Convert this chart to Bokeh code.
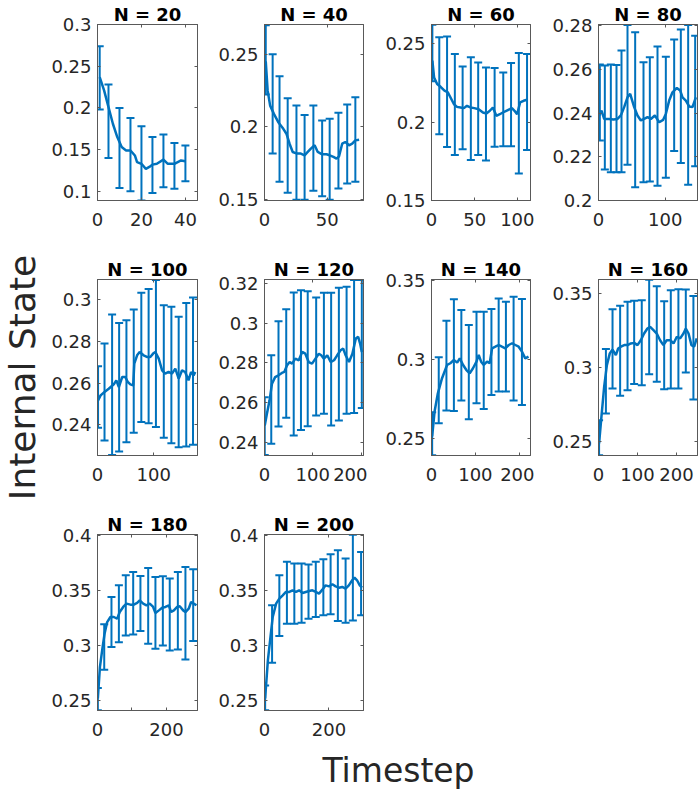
from math import pi
from bokeh.plotting import figure
from bokeh.models import Range1d, FixedTicker, LinearAxis, Label
from bokeh.layouts import row, column
from bokeh.embed import file_html
from bokeh.resources import INLINE

BLUE = "#0072BD"
AXC = "#595959"
TXT = "#262626"
FONT = "DejaVu Sans"

# ---------------- data ----------------
titles = ["N = 20", "N = 40", "N = 60", "N = 80", "N = 100",
          "N = 120", "N = 140", "N = 160", "N = 180", "N = 200"]

n20_line_x = [1, 3, 5, 7, 9, 11, 13, 15, 17, 18, 20, 22, 24, 25, 27, 30, 32, 35, 38, 40]
n20_line_y = [0.237, 0.221, 0.201, 0.181, 0.165, 0.153, 0.149, 0.149, 0.143, 0.135, 0.133,
              0.127, 0.130, 0.132, 0.133, 0.138, 0.133, 0.133, 0.137, 0.136]
n20_bar_x = [1, 5, 10, 15, 20, 25, 30, 35, 40]
n20_bar_hi = [0.274, 0.228, 0.200, 0.188, 0.178, 0.165, 0.168, 0.158, 0.155]
n20_bar_lo = [0.198, 0.140, 0.104, 0.100, 0.089, 0.098, 0.105, 0.103, 0.112]

n40_line_x = [1, 2.5, 4.5, 7.5, 11, 15, 17.5, 20, 22.5, 26, 29, 32, 34.5, 37, 40, 42.5, 46,
              49.5, 52, 55, 57.5, 59.5, 62, 64.5, 67.5, 70, 72.5, 75.5]
n40_line_y = [0.245, 0.225, 0.2145, 0.2088, 0.2031, 0.1985, 0.1951, 0.1882, 0.1825, 0.1814,
              0.1814, 0.1802, 0.1825, 0.1848, 0.1871, 0.1825, 0.1809, 0.1809, 0.1802, 0.1791,
              0.1779, 0.1795, 0.1882, 0.1894, 0.1871, 0.1882, 0.1905, 0.191]
n40_bar_x = [1, 6.5, 12, 18.5, 25.5, 32, 39, 46, 52, 59, 66, 72.5]
n40_bar_hi = [0.270, 0.250, 0.2347, 0.2196, 0.2145, 0.2081, 0.2145, 0.2042, 0.2054, 0.2095,
              0.2152, 0.2203]
n40_bar_lo = [0.2221, 0.1814, 0.1619, 0.1544, 0.1495, 0.1495, 0.1557, 0.152, 0.1495, 0.1573,
              0.1608, 0.1619]

n60_line_x = [1, 3, 6.5, 10.5, 15, 19, 22, 26, 29.5, 33.5, 37.5, 41, 45, 49.5, 54.5, 59.5,
              63.5, 67.5, 71, 75, 79, 82.5, 86.5, 90.5, 93, 96, 99, 102.5, 106.5, 110.5]
n60_line_y = [0.2393, 0.2286, 0.2244, 0.2226, 0.2201, 0.219, 0.2158, 0.2115, 0.2098, 0.2094,
              0.209, 0.2105, 0.2094, 0.209, 0.2083, 0.2062, 0.2056, 0.2073, 0.2094, 0.2041,
              0.2051, 0.2062, 0.2073, 0.2083, 0.209, 0.2073, 0.2051, 0.2126, 0.2137, 0.2143]
n60_bar_x = [1, 9, 18, 27, 36, 45.5, 54, 63, 73, 83, 92, 101, 110.5]
n60_bar_hi = [0.2622, 0.2543, 0.2547, 0.2436, 0.2355, 0.2415, 0.2382, 0.235, 0.2346, 0.2318,
              0.2378, 0.2442, 0.2436]
n60_bar_lo = [0.2261, 0.1923, 0.1842, 0.179, 0.1827, 0.1758, 0.179, 0.1756, 0.1844, 0.1846,
              0.1846, 0.1673, 0.1823]

n80_line_x = [1, 4.5, 8.5, 16, 22.5, 28.5, 33.5, 38.5, 43.5, 47.5, 53.5, 58.5, 63.5, 68.5,
              73.5, 78.5, 84.5, 91, 97, 101, 106, 111, 117.5, 122.5, 126, 131, 136, 141, 146]
n80_line_y = [0.2389, 0.2411, 0.2373, 0.2373, 0.237, 0.2373, 0.2389, 0.2427, 0.2472, 0.2488,
              0.2427, 0.2389, 0.2366, 0.2373, 0.2381, 0.2373, 0.2389, 0.2358, 0.2369, 0.2396,
              0.2457, 0.2495, 0.2515, 0.2503, 0.2472, 0.2457, 0.243, 0.2427, 0.2472]
n80_bar_x = [2, 9.5, 18.5, 27, 34.5, 43.5, 55, 67.5, 77, 88.5, 101, 113.5, 123.5, 134.5, 145]
n80_bar_hi = [0.2622, 0.2617, 0.2622, 0.262, 0.2686, 0.2803, 0.277, 0.2632, 0.2655, 0.2704,
              0.2658, 0.2736, 0.2782, 0.2803, 0.2754]
n80_bar_lo = [0.2274, 0.2142, 0.2129, 0.2129, 0.2129, 0.2163, 0.2061, 0.2084, 0.2087, 0.2068,
              0.2104, 0.2226, 0.2172, 0.2072, 0.2157]

n100_line_x = [1, 5.5, 12.5, 20, 29, 33.5, 38, 44, 49.5, 54, 58.5, 63.5, 65.5, 70.5, 75, 82,
               88, 94, 99, 103, 109, 115, 120.5, 126.5, 132.5, 138.5, 144.5, 150.5, 156, 162,
               166.5, 171, 174]
n100_line_y = [0.2517, 0.2541, 0.2557, 0.2573, 0.2594, 0.2613, 0.2581, 0.2629, 0.2629, 0.2605,
               0.2594, 0.2589, 0.2693, 0.2733, 0.2749, 0.2733, 0.2725, 0.2725, 0.2741, 0.2749,
               0.2717, 0.2661, 0.2645, 0.2653, 0.2645, 0.2669, 0.2621, 0.2661, 0.2653, 0.2613,
               0.2653, 0.2637, 0.2653]
n100_bar_x = [1, 12.5, 26, 38.5, 51.5, 64.5, 78, 91, 104, 118, 131.5, 144.5, 158, 170]
n100_bar_hi = [0.268, 0.2789, 0.2928, 0.2888, 0.2901, 0.2952, 0.3032, 0.305, 0.3094, 0.2973,
               0.2965, 0.2917, 0.2984, 0.301]
n100_bar_lo = [0.2386, 0.2325, 0.2255, 0.2272, 0.2317, 0.2362, 0.2413, 0.2408, 0.2389, 0.2338,
               0.2312, 0.2293, 0.2296, 0.2304]

n120_line_x = [0.5, 5, 10.5, 15.5, 22, 29, 36, 41, 46.5, 52, 57, 64, 71, 78, 84.5, 91.5, 98.5,
               105.5, 112.5, 117.5, 123, 130, 137, 144, 150.5, 157.5, 163, 168, 175, 182, 189,
               194, 198, 201.5]
n120_line_y = [0.2484, 0.2543, 0.2611, 0.2695, 0.2728, 0.2737, 0.2749, 0.2754, 0.2787, 0.2804,
               0.2796, 0.2821, 0.2813, 0.2855, 0.2846, 0.2804, 0.2796, 0.2821, 0.2846, 0.2838,
               0.2821, 0.2838, 0.2804, 0.2813, 0.2838, 0.2863, 0.2872, 0.2838, 0.2804, 0.2846,
               0.2922, 0.2931, 0.2897, 0.2855]
n120_bar_x = [0.5, 14, 29, 45, 60.5, 75.5, 89.5, 107, 123, 138, 154, 170, 185.5, 201.5]
n120_bar_hi = [0.2627, 0.2838, 0.301, 0.307, 0.3155, 0.3166, 0.3161, 0.3129, 0.3153, 0.3153,
               0.3178, 0.3183, 0.3218, 0.3217]
n120_bar_lo = [0.2335, 0.2392, 0.2479, 0.2523, 0.2434, 0.2462, 0.2481, 0.2535, 0.2543, 0.2484,
               0.251, 0.2543, 0.2547, 0.2572]

n140_line_x = [1.5, 7, 14.5, 24, 35.5, 43, 51, 58.5, 64.5, 72, 79.5, 87, 94.5, 102.5, 107.5,
               113, 119, 126.5, 132.5, 138, 145.5, 153, 160.5, 168, 176, 183.5, 191, 198.5,
               206, 213.5, 221]
n140_line_y = [0.2511, 0.2669, 0.2785, 0.2881, 0.2965, 0.2976, 0.2997, 0.298, 0.3007, 0.2965,
               0.2933, 0.2912, 0.2944, 0.2986, 0.3029, 0.2986, 0.2965, 0.2986, 0.2976, 0.3071,
               0.3081, 0.3092, 0.3081, 0.3071, 0.3092, 0.3103, 0.3092, 0.3081, 0.305, 0.3007,
               0.3018]
n140_bar_x = [1.5, 16.5, 34, 51, 68, 85, 102.5, 119, 136.5, 153, 169.5, 187, 206]
n140_bar_hi = [0.2665, 0.3014, 0.3246, 0.3382, 0.3314, 0.3219, 0.3303, 0.3303, 0.332, 0.3388,
               0.3367, 0.3399, 0.3384]
n140_bar_lo = [0.2392, 0.2595, 0.2676, 0.2673, 0.2739, 0.2621, 0.2722, 0.2686, 0.2775, 0.2796,
               0.2796, 0.2739, 0.2711]

n160_line_x = [1.5, 7.5, 14.5, 21.5, 29, 36, 44.5, 50.5, 57.5, 66, 74.5, 83, 91.5, 100, 108.5,
               117, 125.5, 132.5, 141, 149.5, 158, 166.5, 175, 184, 192.5, 201, 209.5, 218,
               224, 231, 238.5, 245.5, 252]
n160_line_y = [0.2489, 0.2669, 0.2871, 0.3017, 0.3096, 0.3122, 0.3084, 0.3129, 0.3141, 0.3152,
               0.3152, 0.3163, 0.3167, 0.3152, 0.3185, 0.323, 0.3264, 0.3275, 0.3253, 0.323,
               0.3185, 0.3152, 0.3185, 0.3185, 0.3163, 0.3208, 0.3197, 0.323, 0.3264, 0.323,
               0.3152, 0.3141, 0.3197]
n160_bar_x = [1.5, 19, 36, 55.5, 74.5, 91.5, 111, 130, 149.5, 168.5, 185.5, 205, 224, 243.5]
n160_bar_hi = [0.2646, 0.3125, 0.3394, 0.3417, 0.3444, 0.3451, 0.3455, 0.3592, 0.3549, 0.3448,
               0.3522, 0.3529, 0.3527, 0.3482]
n160_bar_lo = [0.241, 0.2691, 0.286, 0.281, 0.2848, 0.2889, 0.2882, 0.2956, 0.2905, 0.2855,
               0.286, 0.286, 0.2967, 0.2785]

n180_line_x = [1, 7, 13.5, 20.5, 28, 37.5, 47.5, 57, 64.5, 74.5, 84, 95.5, 105.5, 115, 122.5,
               132.5, 142, 151.5, 161.5, 168, 178, 187.5, 197, 207, 213.5, 221.5, 231, 238.5,
               248.5, 255, 264.5, 271.5, 279, 287]
n180_line_y = [0.252, 0.2803, 0.2955, 0.3106, 0.3212, 0.3258, 0.3258, 0.3242, 0.3303, 0.3349,
               0.3379, 0.337, 0.337, 0.3385, 0.3409, 0.3379, 0.3364, 0.3379, 0.3349, 0.3294,
               0.3318, 0.3342, 0.3349, 0.3364, 0.3303, 0.3318, 0.3349, 0.3355, 0.3318, 0.3303,
               0.3333, 0.3394, 0.3379, 0.3364]
n180_bar_x = [1, 19.5, 40.5, 62, 82, 103.5, 124.5, 147, 168, 189.5, 209.5, 233, 255, 277.5]
n180_bar_hi = [0.2615, 0.3191, 0.3439, 0.3545, 0.3636, 0.3667, 0.363, 0.3703, 0.3621, 0.3627,
               0.3606, 0.3667, 0.3712, 0.3691]
n180_bar_lo = [0.2412, 0.2779, 0.2985, 0.303, 0.3091, 0.31, 0.313, 0.3015, 0.297, 0.3, 0.2955,
               0.2964, 0.2873, 0.304]

n200_line_x = [2, 10.5, 18.5, 25.5, 36, 46, 56.5, 66.5, 77, 87, 97.5, 107.5, 118, 128, 138.5,
               148.5, 159, 169, 179.5, 189.5, 200, 210.5, 220.5, 231, 241, 251.5, 261.5, 272,
               279, 287, 295.5, 302.5]
n200_line_y = [0.252, 0.2864, 0.3076, 0.3258, 0.3379, 0.3424, 0.3455, 0.3485, 0.3485, 0.35,
               0.3485, 0.35, 0.3476, 0.3485, 0.3494, 0.35, 0.3485, 0.347, 0.3506, 0.3545, 0.3536,
               0.3555, 0.3536, 0.3524, 0.353, 0.3515, 0.3545, 0.3591, 0.3615, 0.3591, 0.3545,
               0.3524]
n200_bar_x = [2, 23.5, 46, 69.5, 92.5, 115, 136.5, 159, 182.5, 205, 227.5, 251.5, 274, 299.5]
n200_bar_hi = [0.2636, 0.3364, 0.3636, 0.3758, 0.3742, 0.3742, 0.3733, 0.3758, 0.3782, 0.3827,
               0.3864, 0.3788, 0.4004, 0.3848]
n200_bar_lo = [0.2412, 0.2843, 0.3085, 0.3197, 0.3197, 0.3206, 0.3242, 0.3258, 0.3273, 0.3282,
               0.3221, 0.3206, 0.3227, 0.3273]

# axis limits
x_limits = [(0, 45.5), (0, 79), (0, 114.5), (0, 148.5), (0, 178),
            (0, 205), (0, 225.5), (0, 254), (0, 290), (0, 307)]
y_limits = [(0.089, 0.3), (0.149, 0.2705), (0.15, 0.2624), (0.2, 0.2805), (0.2253, 0.3096),
            (0.2333, 0.322), (0.239, 0.3508), (0.2408, 0.3594), (0.241, 0.4006), (0.241, 0.4006)]

# ticks and tick labels
x_ticks = [[0, 20, 40], [0, 50], [0, 50, 100], [0, 100], [0, 100],
           [0, 100, 200], [0, 100, 200], [0, 100, 200], [0, 100, 200], [0, 200]]
x_tick_labels = [["0", "20", "40"], ["0", "50"], ["0", "50", "100"], ["0", "100"], ["0", "100"],
                 ["0", "100", "200"], ["0", "100", "200"], ["0", "100", "200"], ["0", "", "200"],
                 ["0", "200"]]
y_ticks = [[0.1, 0.15, 0.2, 0.25, 0.3], [0.15, 0.2, 0.25], [0.15, 0.2, 0.25],
           [0.2, 0.22, 0.24, 0.26, 0.28], [0.24, 0.26, 0.28, 0.3],
           [0.24, 0.26, 0.28, 0.3, 0.32], [0.25, 0.3, 0.35], [0.25, 0.3, 0.35],
           [0.25, 0.3, 0.35, 0.4], [0.25, 0.3, 0.35, 0.4]]
y_tick_labels = [["0.1", "0.15", "0.2", "0.25", "0.3"], ["0.15", "0.2", "0.25"],
                 ["0.15", "0.2", "0.25"], ["0.2", "0.22", "0.24", "0.26", "0.28"],
                 ["0.24", "0.26", "0.28", "0.3"], ["0.24", "0.26", "0.28", "0.3", "0.32"],
                 ["0.25", "0.3", "0.35"], ["0.25", "0.3", "0.35"],
                 ["0.25", "0.3", "0.35", "0.4"], ["0.25", "0.3", "0.35", "0.4"]]

x_label = "Timestep"
y_label = "Internal State"

series = [
    (n20_line_x, n20_line_y, n20_bar_x, n20_bar_lo, n20_bar_hi),
    (n40_line_x, n40_line_y, n40_bar_x, n40_bar_lo, n40_bar_hi),
    (n60_line_x, n60_line_y, n60_bar_x, n60_bar_lo, n60_bar_hi),
    (n80_line_x, n80_line_y, n80_bar_x, n80_bar_lo, n80_bar_hi),
    (n100_line_x, n100_line_y, n100_bar_x, n100_bar_lo, n100_bar_hi),
    (n120_line_x, n120_line_y, n120_bar_x, n120_bar_lo, n120_bar_hi),
    (n140_line_x, n140_line_y, n140_bar_x, n140_bar_lo, n140_bar_hi),
    (n160_line_x, n160_line_y, n160_bar_x, n160_bar_lo, n160_bar_hi),
    (n180_line_x, n180_line_y, n180_bar_x, n180_bar_lo, n180_bar_hi),
    (n200_line_x, n200_line_y, n200_bar_x, n200_bar_lo, n200_bar_hi),
]

# ---------------- layout geometry ----------------
LABEL_W = 48
COL_FW = [100, 99, 99, 99]
COL_L = [49, 63, 64, 64]
COL_R = [4, 4, 4, 2]
ROW_T = [24, 24, 24]
ROW_B = [55, 55, 36]
FRAME_H = 176


def style_axis(ax, ticks, labels):
    ax.ticker = FixedTicker(ticks=ticks)
    ax.major_label_overrides = {t: s for t, s in zip(ticks, labels)}
    ax.major_label_text_font = FONT
    ax.major_label_text_font_size = "18px"
    ax.major_label_text_color = TXT
    ax.axis_line_color = AXC
    ax.major_tick_line_color = AXC
    ax.major_tick_in = 3
    ax.major_tick_out = 0
    ax.minor_tick_line_color = None


def mirror_axis(ticks):
    return LinearAxis(ticker=FixedTicker(ticks=ticks), major_label_text_font_size="0px",
                      major_label_text_color=None,
                      major_label_standoff=0, major_tick_in=3, major_tick_out=0,
                      minor_tick_line_color=None, axis_line_color=AXC,
                      major_tick_line_color=AXC)


def make_panel(i, r, c):
    lx, ly, bx, blo, bhi = series[i]
    xl, yl = x_limits[i], y_limits[i]
    p = figure(frame_width=COL_FW[c], frame_height=FRAME_H,
               min_border_left=COL_L[c], min_border_right=COL_R[c],
               min_border_top=ROW_T[r], min_border_bottom=ROW_B[r],
               x_range=Range1d(*xl), y_range=Range1d(*yl),
               title=titles[i],
               output_backend="svg", toolbar_location=None)
    p.title.align = "center"
    p.title.text_font = FONT
    p.title.text_font_style = "bold"
    p.title.text_font_size = "18px"
    p.title.text_color = "black"
    p.title.standoff = 0
    p.grid.visible = False
    p.outline_line_color = AXC
    p.outline_line_width = 1
    p.background_fill_color = "white"
    p.border_fill_color = "white"

    style_axis(p.xaxis[0], x_ticks[i], x_tick_labels[i])
    p.xaxis[0].major_label_standoff = 12
    style_axis(p.yaxis[0], y_ticks[i], y_tick_labels[i])
    p.yaxis[0].major_label_standoff = 6

    p.add_layout(mirror_axis(x_ticks[i]), "above")
    p.add_layout(mirror_axis(y_ticks[i]), "right")

    p.segment(x0=bx, y0=blo, x1=bx, y1=bhi, line_color=BLUE, line_width=2)
    p.scatter(x=bx + bx, y=blo + bhi, marker="dash", size=8,
              line_color=BLUE, line_width=2)
    p.line(lx, ly, line_color=BLUE, line_width=2.5)
    return p


rows = []
idx = 0
for r, ncols in enumerate([4, 4, 2]):
    figs = []
    for c in range(ncols):
        figs.append(make_panel(idx, r, c))
        idx += 1
    rows.append(row(*figs, spacing=0))
grid = column(*rows, spacing=0)

grid_h = sum(ROW_T) + sum(ROW_B) + 3 * FRAME_H
total_w = LABEL_W + sum(COL_L) + sum(COL_FW) + sum(COL_R)

ylab = figure(width=LABEL_W, height=grid_h, x_range=Range1d(0, LABEL_W),
              y_range=Range1d(0, grid_h), min_border=0, x_axis_type=None,
              y_axis_type=None, output_backend="svg", toolbar_location=None)
ylab.outline_line_color = None
ylab.add_layout(Label(x=22, y=grid_h - 377, text=y_label, angle=pi / 2,
                      text_align="center", text_baseline="middle",
                      text_font=FONT, text_font_size="36px", text_color=TXT))

XLAB_H = 44
xlab = figure(width=total_w, height=XLAB_H, x_range=Range1d(0, total_w),
              y_range=Range1d(0, XLAB_H), min_border=0, x_axis_type=None,
              y_axis_type=None, output_backend="svg", toolbar_location=None)
xlab.outline_line_color = None
xlab.add_layout(Label(x=398, y=20, text=x_label, text_align="center",
                      text_baseline="middle", text_font=FONT,
                      text_font_size="33px", text_color=TXT))

layout = column(row(ylab, grid, spacing=0), xlab, spacing=0)

open("out.html", "w").write(file_html(layout, INLINE))
